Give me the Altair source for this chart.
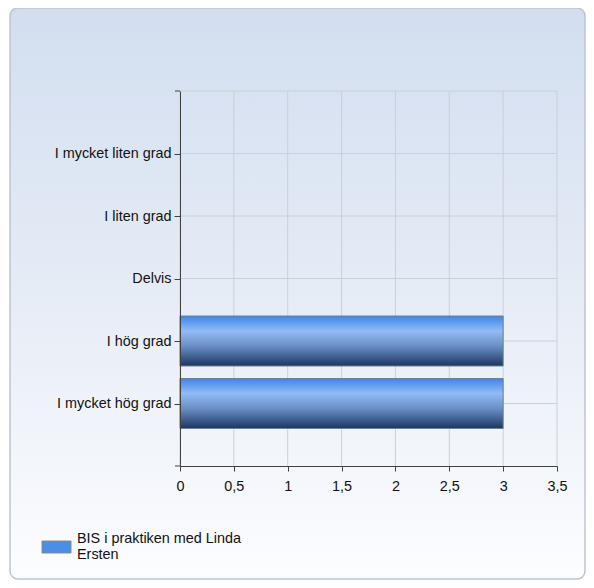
import altair as alt
import pandas as pd

categories = ["I mycket liten grad", "I liten grad", "Delvis", "I hög grad", "I mycket hög grad"]
values = [0, 0, 0, 3, 3]
series_name = "BIS i praktiken med Linda\nErsten"
x_ticks = [0, 0.5, 1, 1.5, 2, 2.5, 3, 3.5]

df = pd.DataFrame({"cat": categories, "value": values})
ticks_df = pd.DataFrame({"value": x_ticks})
one = pd.DataFrame({"k": [0]})
legend_df = pd.DataFrame({"name": [series_name]})

W, H = 377, 375
FONT = "Liberation Sans"
FS = 14.4
GRID = "#c9d0da"
AXIS = "#404040"
TXT = "#111111"

xscale = alt.Scale(domain=[0, 3.5], nice=False, zero=True)
yscale = alt.Scale(type="point", padding=1, domain=categories)

X = alt.X("value:Q", scale=xscale, title=None,
          axis=alt.Axis(values=x_ticks, labelExpr="replace(toString(datum.value), '.', ',')",
                        grid=False, domainColor=AXIS, tickColor=AXIS, tickSize=5,
                        labelPadding=8, labelFont=FONT, labelFontSize=FS, labelFlush=False,
                        labelColor=TXT, zindex=1))
Y = alt.Y("cat:N", scale=yscale, sort=categories, title=None,
          axis=alt.Axis(grid=False, domainColor=AXIS, tickColor=AXIS, tickSize=6,
                        labelPadding=3, labelFont=FONT, labelFontSize=FS,
                        labelColor=TXT, zindex=1))

panel_grad = alt.Gradient(gradient="linear", x1=0, x2=0, y1=0, y2=1, stops=[
    alt.GradientStop(color="#d2def0", offset=0),
    alt.GradientStop(color="#e6ecf6", offset=0.5),
    alt.GradientStop(color="#fcfdff", offset=1),
])
bar_grad = alt.Gradient(gradient="linear", x1=0, x2=0, y1=0, y2=1, stops=[
    alt.GradientStop(color="#3d86ea", offset=0),
    alt.GradientStop(color="#93bbf3", offset=0.3),
    alt.GradientStop(color="#6a8fc6", offset=0.6),
    alt.GradientStop(color="#1d3660", offset=1),
])

panel = alt.Chart(one).mark_rect(cornerRadius=8, fill=panel_grad, stroke="#bfc5cd", strokeWidth=1.5).encode(
    x=alt.value(-170), x2=alt.value(405), y=alt.value(-83), y2=alt.value(488))

vgrid = alt.Chart(ticks_df).mark_rule(color=GRID).encode(x=X, y=alt.value(0), y2=alt.value(H))
hgrid = alt.Chart(df).mark_rule(color=GRID).encode(y=Y, x=alt.value(0), x2=alt.value(W))
topline = alt.Chart(one).mark_rule(color=GRID).encode(y=alt.value(0), x=alt.value(0), x2=alt.value(W))
endticks = alt.Chart(pd.DataFrame({"p": [0, H]})).mark_rule(color=AXIS).encode(
    y=alt.Y("p:Q", scale=None), x=alt.value(-5), x2=alt.value(0))

bars = alt.Chart(df).transform_filter("datum.value > 0").mark_bar(
    height=50, fill=bar_grad, stroke="#6f8096", strokeWidth=1).encode(x=X, y=Y)

leg_rect = alt.Chart(one).mark_rect(fill="#4a8ee8", stroke="#8a8a8a").encode(
    x=alt.value(-138), x2=alt.value(-109), y=alt.value(450), y2=alt.value(462))
leg_text = alt.Chart(legend_df).mark_text(
    align="left", baseline="top", lineBreak="\n", font=FONT, fontSize=FS,
    color=TXT, lineHeight=16).encode(
    text="name:N", x=alt.value(-103), y=alt.value(441))

chart = alt.layer(panel, vgrid, hgrid, topline, endticks, bars, leg_rect, leg_text).properties(
    width=W, height=H,
    autosize=alt.AutoSizeParams(type="none"),
    padding={"left": 172, "top": 83, "right": 29, "bottom": 114},
    background="white",
).configure_view(stroke=None)

chart.save("out.html", embed_options={"renderer": "svg", "actions": False})
